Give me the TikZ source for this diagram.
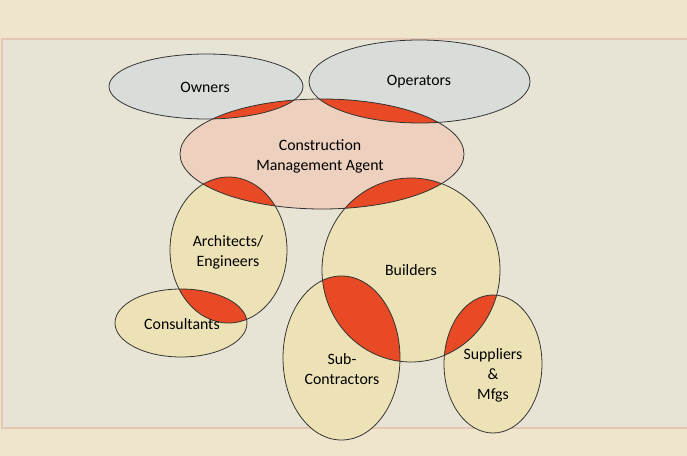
\documentclass[tikz,border=0pt]{standalone}
\usepackage{fontspec}
\setmainfont{Carlito}
\definecolor{outerbg}{RGB}{239,228,204}
\definecolor{innerbg}{RGB}{232,228,213}
\definecolor{panelline}{RGB}{228,198,180}
\definecolor{bluegrey}{RGB}{216,221,218}
\definecolor{peach}{RGB}{237,209,190}
\definecolor{sand}{RGB}{236,226,182}
\definecolor{hot}{RGB}{232,74,38}

\tikzset{
  venn/.style={draw=black!80, line width=0.45pt},
  overlap/.style={fill=hot},
  tag/.style={font=\fontsize{9}{11.4}\selectfont, align=center, text=black}
}

\begin{document}
\begin{tikzpicture}[x=0.02cm, y=-0.02cm]
  \useasboundingbox (0,0) rectangle (687,456);
  % background sheet and panel
  \fill[outerbg] (0,0) rectangle (687,456);
  \fill[innerbg] (2,39) rectangle (687,428);
  \draw[panelline, line width=0.6pt] (687,39) -- (2,39) -- (2,428) -- (687,428);

  % the circles
  \def\owners{(206,86.5) ellipse (97 and 32.5)}
  \def\operators{(419.5,81.5) ellipse (110.5 and 41.5)}
  \def\cma{(322,154) ellipse (142 and 55)}
  \def\archs{(228.5,250) ellipse (58.5 and 73)}
  \def\builders{(411,270) ellipse (89 and 92)}
  \def\consult{(181,323) ellipse (66 and 34)}
  \def\subs{(341.5,358) ellipse (58.5 and 82)}
  \def\supp{(493,364) ellipse (49 and 69)}

  \fill[bluegrey] \owners;
  \fill[bluegrey] \operators;
  \fill[peach] \cma;
  \foreach \e in {\archs,\builders,\consult,\subs,\supp}
    \fill[sand] \e;

  % shared parts
  \foreach \a/\b in {\owners/\cma, \operators/\cma, \cma/\archs, \cma/\builders,
                     \archs/\consult, \builders/\subs, \builders/\supp} {
    \begin{scope}
      \clip \a;
      \fill[overlap] \b;
    \end{scope}
  }

  \foreach \e in {\owners,\operators,\cma,\archs,\builders,\consult,\subs,\supp}
    \draw[venn] \e;

  % labels
  \node[tag] (owners) at (205,87) {Owners};
  \node[tag] (operators) at (419,82) {Operators};
  \node[tag] (cma) at (320,156) {Construction\\Management Agent};
  \node[tag] (archs) at (228,252) {Architects/\\Engineers};
  \node[tag] (builders) at (411,270) {Builders};
  \node[tag] (consult) at (182,324) {Consultants};
  \node[tag] (subs) at (342,369) {Sub-\\Contractors};
  \node[tag] (supp) at (493,375) {Suppliers\\\&\\Mfgs};
\end{tikzpicture}
\end{document}
